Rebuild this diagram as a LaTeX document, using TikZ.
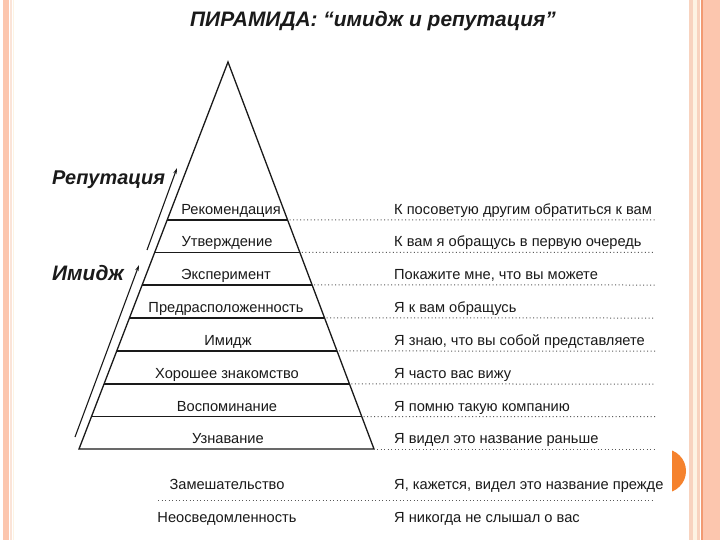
\documentclass[tikz,border=0pt]{standalone}
\usepackage{fontspec}
\setmainfont{Liberation Sans}
\usetikzlibrary{calc,arrows.meta}
\definecolor{salmon}{HTML}{FCC6AE}
\definecolor{peach}{HTML}{F8D3BF}
\definecolor{cream}{HTML}{FDF3E3}
\definecolor{orangeline}{HTML}{F29A72}
\definecolor{dotorange}{HTML}{F5822D}
\definecolor{ink}{HTML}{1A1A1A}
\tikzset{
  pyr/.style={draw=ink,line width=1.3bp},
  dots/.style={draw=gray!70!black,line width=1bp,dash pattern=on 1bp off 2.5bp},
  lbl/.style={font=\fontsize{14.7}{16}\selectfont,text=ink,inner sep=0pt},
  side/.style={font=\fontsize{21}{23}\selectfont\bfseries\itshape,text=ink,inner sep=0pt},
  uparrow/.style={draw=ink,line width=1.1bp,-{Stealth[length=6bp,width=3.5bp]}}
}
\begin{document}
\begin{tikzpicture}[x=1bp,y=-1bp]
\useasboundingbox (0,0) rectangle (720,540);
\fill[white] (0,0) rectangle (720,540);
% borders
\fill[salmon] (3,0) rectangle (8.5,540);
\fill[peach!60] (10,0) rectangle (11.5,540);
\fill[cream] (12.5,0) rectangle (14,540);
\fill[peach] (688.5,0) rectangle (692.5,540);
\fill[cream] (692.5,0) rectangle (697,540);
\fill[peach] (697,0) rectangle (699.5,540);
\fill[orangeline] (701,0) rectangle (703,540);
\fill[salmon] (703,0) rectangle (720,540);
% orange disc
\begin{scope}
\clip (672,440) rectangle (688,500);
\fill[dotorange] (664,471) circle (22);
\end{scope}
% title
\node[side,anchor=base west] (title) at (190,27) {ПИРАМИДА: “имидж и репутация”};
% pyramid
\coordinate (A) at (228,62);
\coordinate (BL) at (79,449);
\coordinate (BR) at (374,449);
\draw[pyr,line join=miter] (BL) -- (A) -- (BR) -- cycle;
\foreach \yy [count=\i] in {220,252.5,285,318,351,384,416.5} {
  \pgfmathsetmacro\tt{(\yy-62)/387}
  \draw[pyr] ($(A)!\tt!(BL)$) coordinate (L\i) -- ($(A)!\tt!(BR)$) coordinate (R\i);
  \draw[dots] ($(R\i)+(2,0)$) -- (655,\yy);
}
\draw[dots] ($(BR)+(3,0)$) -- (655,449);
\draw[dots] (158,500) -- (655,500);
% left labels
\node[lbl,anchor=base] (p1) at (231,214.5) {Рекомендация};
\node[lbl,anchor=base] (p2) at (227,247) {Утверждение};
\node[lbl,anchor=base] (p3) at (226,279.5) {Эксперимент};
\node[lbl,anchor=base] (p4) at (226,312.5) {Предрасположенность};
\node[lbl,anchor=base] (p5) at (228,345.5) {Имидж};
\node[lbl,anchor=base] (p6) at (227,378.5) {Хорошее знакомство};
\node[lbl,anchor=base] (p7) at (227,411) {Воспоминание};
\node[lbl,anchor=base] (p8) at (228,443.5) {Узнавание};
\node[lbl,anchor=base] (p9) at (227,489) {Замешательство};
\node[lbl,anchor=base] (p10) at (227,522) {Неосведомленность};
% right labels
\node[lbl,anchor=base west] (q1) at (394,214.5) {К посоветую другим обратиться к вам};
\node[lbl,anchor=base west] (q2) at (394,247) {К вам я обращусь в первую очередь};
\node[lbl,anchor=base west] (q3) at (394,279.5) {Покажите мне, что вы можете};
\node[lbl,anchor=base west] (q4) at (394,312.5) {Я к вам обращусь};
\node[lbl,anchor=base west] (q5) at (394,345.5) {Я знаю, что вы собой представляете};
\node[lbl,anchor=base west] (q6) at (394,378.5) {Я часто вас вижу};
\node[lbl,anchor=base west] (q7) at (394,411) {Я помню такую компанию};
\node[lbl,anchor=base west] (q8) at (394,443.5) {Я видел это название раньше};
\node[lbl,anchor=base west] (q9) at (394,489) {Я, кажется, видел это название прежде};
\node[lbl,anchor=base west] (q10) at (394,522) {Я никогда не слышал о вас};
% side labels and arrows
\node[side,font=\fontsize{20}{22}\selectfont\bfseries\itshape,anchor=base west] (rep) at (52,185) {Репутация};
\node[side,anchor=base west] (img) at (52,281) {Имидж};
\coordinate (r0) at (147,250);
\coordinate (r1) at (177,168);
\coordinate (i0) at (75,437);
\coordinate (i1) at (139,265);
\draw[uparrow] (r0) -- (r1);
\draw[uparrow] (i0) -- (i1);
\end{tikzpicture}
\end{document}
